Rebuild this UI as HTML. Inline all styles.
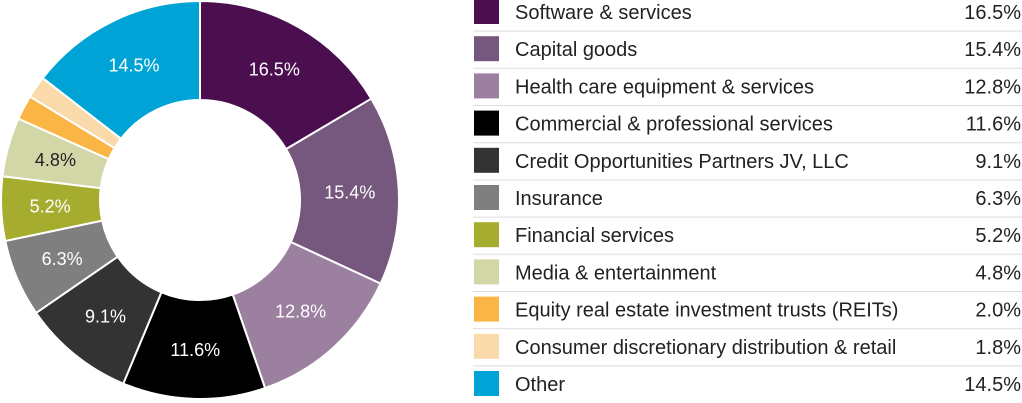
<!DOCTYPE html>
<html><head><meta charset="utf-8"><style>
body{margin:0;width:1022px;height:403px;background:#fff;overflow:hidden;font-family:"Liberation Sans",sans-serif}
svg{position:absolute;left:0;top:0}
</style></head><body>
<svg id="chart" width="1022" height="403" viewBox="0 0 1022 403"></svg>
<script>
const categories=["Software & services","Capital goods","Health care equipment & services","Commercial & professional services","Credit Opportunities Partners JV, LLC","Insurance","Financial services","Media & entertainment","Equity real estate investment trusts (REITs)","Consumer discretionary distribution & retail","Other"];
const values=[16.5,15.4,12.8,11.6,9.1,6.3,5.2,4.8,2.0,1.8,14.5];
const colors=["#4b0f4f","#76577d","#9c809f","#000000","#333333","#7f7f7f","#a6ad2e","#d3d6a6","#fbb545","#fad9aa","#00a3d6"];
const labelDark=[false,false,false,false,false,false,false,true,false,false,false];
const NS="http://www.w3.org/2000/svg";
const svg=document.getElementById('chart');
const cx=200,cy=200,R=199,r=100;
const total=values.reduce((a,b)=>a+b,0);
function pt(a,rad){return [cx+rad*Math.sin(a),cy-rad*Math.cos(a)];}
let acc=0;
values.forEach((v,i)=>{
  const a0=acc/total*2*Math.PI; acc+=v; const a1=acc/total*2*Math.PI;
  const big=(a1-a0)>Math.PI?1:0;
  const [x0,y0]=pt(a0,R),[x1,y1]=pt(a1,R),[x2,y2]=pt(a1,r),[x3,y3]=pt(a0,r);
  const p=document.createElementNS(NS,'path');
  p.setAttribute('d',`M${x0},${y0}A${R},${R} 0 ${big} 1 ${x1},${y1}L${x2},${y2}A${r},${r} 0 ${big} 0 ${x3},${y3}Z`);
  p.setAttribute('fill',colors[i]);p.setAttribute('stroke','#fff');p.setAttribute('stroke-width','2');
  
  
  svg.appendChild(p);
  if(v>=4){
    const [lx,ly]=pt((a0+a1)/2,150);
    const t=document.createElementNS(NS,'text');
    t.setAttribute('x',lx);t.setAttribute('y',ly+6);t.setAttribute('text-anchor','middle');
    t.setAttribute('font-size','18');t.setAttribute('fill',labelDark[i]?'#222':'#fff');
    t.textContent=v.toFixed(1)+'%';
    
    
    svg.appendChild(t);
  }
});
const rowH=37.2,top0=12;
categories.forEach((c,i)=>{
  const y=top0+i*rowH;
  const g=document.createElementNS(NS,'g');
  
  
  const s=document.createElementNS(NS,'rect');
  s.setAttribute('x',474);s.setAttribute('y',y-13);s.setAttribute('width',25);s.setAttribute('height',25);s.setAttribute('fill',colors[i]);
  
  
  g.appendChild(s);
  const t=document.createElementNS(NS,'text');
  t.setAttribute('x',515);t.setAttribute('y',y+7);t.setAttribute('font-size','20');t.setAttribute('fill','#222');
  t.textContent=c;
  
  
  g.appendChild(t);
  const vt=document.createElementNS(NS,'text');
  vt.setAttribute('x',1021);vt.setAttribute('y',y+7);vt.setAttribute('font-size','20');vt.setAttribute('fill','#222');vt.setAttribute('text-anchor','end');
  vt.textContent=values[i].toFixed(1)+'%';
  
  
  g.appendChild(vt);
  if(i<categories.length-1){
    const l=document.createElementNS(NS,'line');
    l.setAttribute('x1',473);l.setAttribute('x2',1022);l.setAttribute('y1',y+rowH/2+0.5);l.setAttribute('y2',y+rowH/2+0.5);
    l.setAttribute('stroke','#ddd');l.setAttribute('stroke-width','1');
    
    
    g.appendChild(l);
  }
  svg.appendChild(g);
});
</script>
</body></html>
